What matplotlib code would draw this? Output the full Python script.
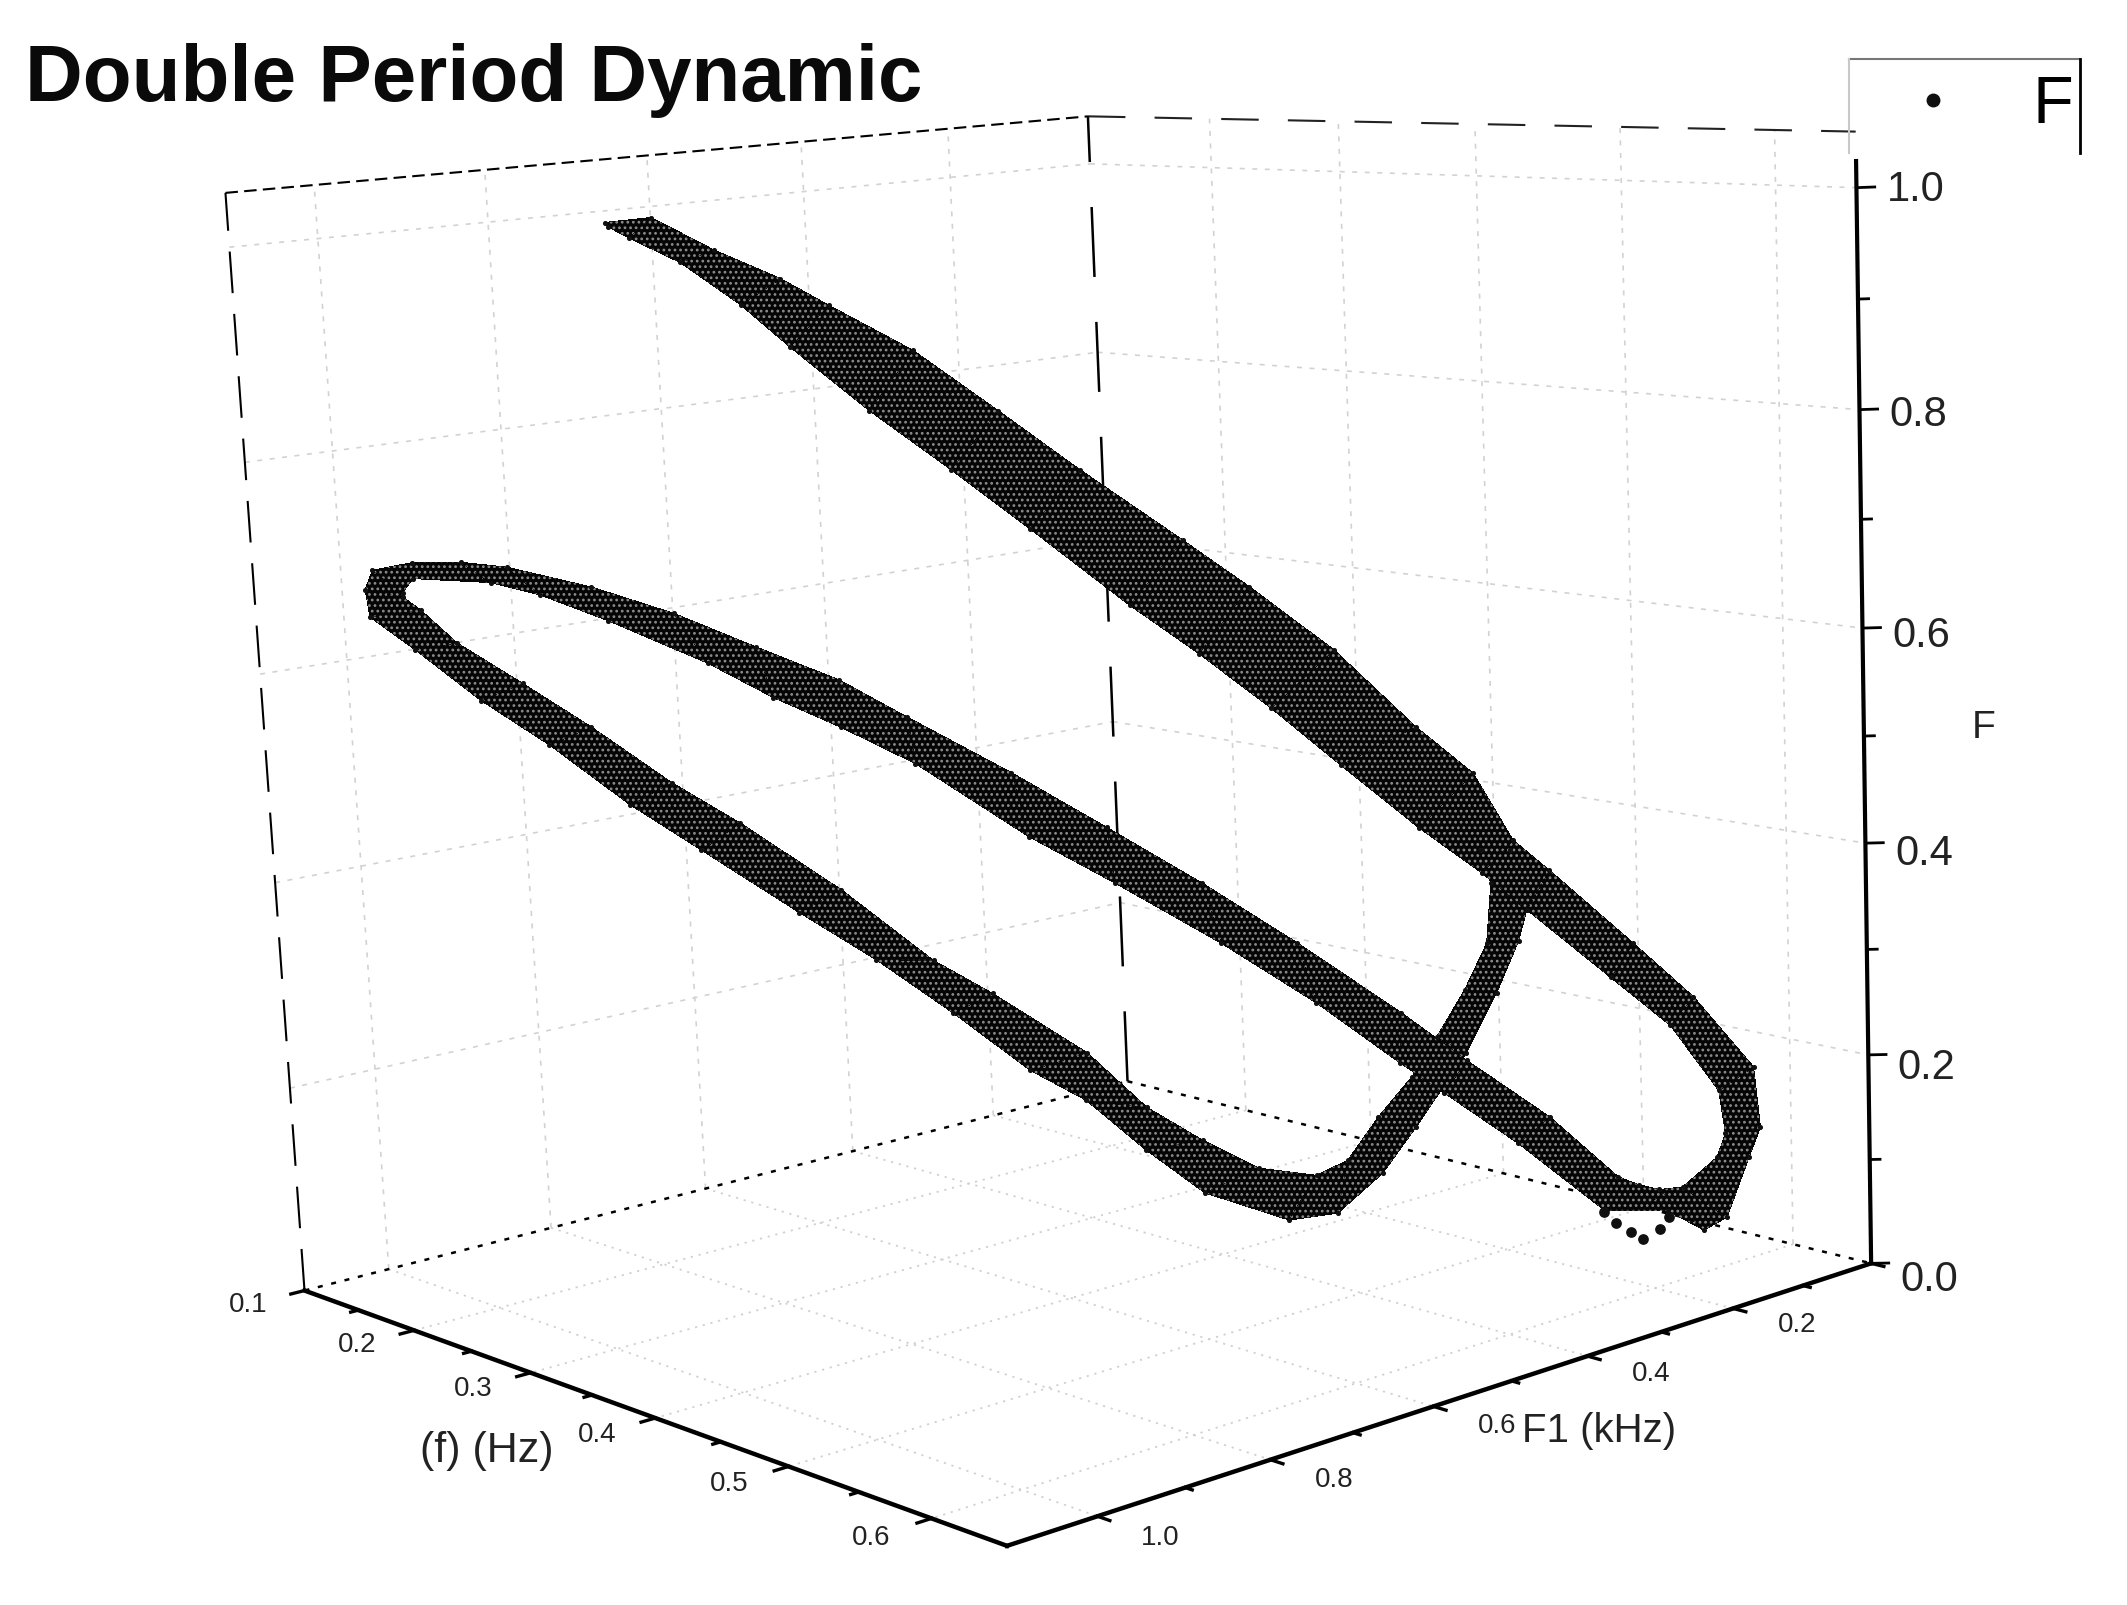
import numpy as np
import matplotlib
matplotlib.use('Agg')
import matplotlib.pyplot as plt
from matplotlib.lines import Line2D
from mpl_toolkits.mplot3d.art3d import Poly3DCollection

plt.rcParams['font.family'] = ['Liberation Sans', 'DejaVu Sans']
plt.rcParams['hatch.linewidth'] = 1.2

# outer and inner strand of the orbit band
orbit_a_x = [0.230, 0.246, 0.267, 0.289, 0.305, 0.333, 0.361, 0.388, 0.422, 0.444, 0.472, 0.499, 0.518, 0.531, 0.543, 0.571,
             0.591, 0.611, 0.613, 0.609, 0.601, 0.593, 0.581, 0.559, 0.530, 0.505, 0.490, 0.462, 0.430, 0.394, 0.365, 0.327,
             0.302, 0.279, 0.257, 0.223, 0.200, 0.183, 0.156, 0.152, 0.152, 0.158, 0.170, 0.192, 0.215, 0.242, 0.265, 0.299,
             0.330, 0.350, 0.382, 0.402, 0.421, 0.440, 0.460, 0.471, 0.482, 0.494, 0.503, 0.513, 0.521, 0.523, 0.520]
orbit_a_y = [0.840, 0.808, 0.766, 0.722, 0.690, 0.634, 0.578, 0.524, 0.456, 0.412, 0.356, 0.302, 0.264, 0.238, 0.214, 0.158,
             0.118, 0.078, 0.074, 0.082, 0.098, 0.114, 0.138, 0.182, 0.240, 0.290, 0.320, 0.376, 0.440, 0.512, 0.570, 0.646,
             0.696, 0.742, 0.786, 0.854, 0.900, 0.934, 0.988, 0.996, 0.996, 0.984, 0.960, 0.916, 0.870, 0.816, 0.770, 0.702,
             0.640, 0.600, 0.536, 0.496, 0.458, 0.420, 0.380, 0.358, 0.336, 0.312, 0.294, 0.274, 0.258, 0.254, 0.260]
orbit_a_f = [1.010, 1.013, 0.981, 0.953, 0.927, 0.883, 0.825, 0.768, 0.700, 0.655, 0.594, 0.520, 0.475, 0.411, 0.382, 0.311,
             0.259, 0.191, 0.133, 0.105, 0.047, 0.035, 0.054, 0.056, 0.122, 0.172, 0.202, 0.261, 0.320, 0.380, 0.426, 0.498,
             0.534, 0.564, 0.598, 0.641, 0.667, 0.680, 0.686, 0.673, 0.669, 0.656, 0.624, 0.584, 0.541, 0.486, 0.446, 0.380,
             0.310, 0.277, 0.218, 0.164, 0.131, 0.103, 0.095, 0.109, 0.150, 0.188, 0.226, 0.270, 0.314, 0.371, 0.403]

orbit_b_x = [0.231, 0.238, 0.255, 0.275, 0.291, 0.317, 0.344, 0.370, 0.403, 0.426, 0.450, 0.473, 0.499, 0.520, 0.535, 0.563,
             0.583, 0.599, 0.601, 0.598, 0.586, 0.578, 0.571, 0.564, 0.541, 0.513, 0.491, 0.456, 0.424, 0.392, 0.360, 0.325,
             0.302, 0.274, 0.246, 0.218, 0.189, 0.173, 0.156, 0.142, 0.139, 0.140, 0.155, 0.177, 0.200, 0.227, 0.251, 0.284,
             0.310, 0.336, 0.362, 0.381, 0.401, 0.421, 0.450, 0.467, 0.483, 0.495, 0.513, 0.524, 0.532, 0.535, 0.530]
orbit_b_y = [0.838, 0.824, 0.790, 0.750, 0.718, 0.666, 0.612, 0.560, 0.494, 0.448, 0.400, 0.354, 0.302, 0.260, 0.230, 0.174,
             0.134, 0.102, 0.098, 0.104, 0.128, 0.144, 0.158, 0.172, 0.218, 0.274, 0.318, 0.388, 0.452, 0.516, 0.580, 0.650,
             0.696, 0.752, 0.808, 0.864, 0.922, 0.954, 0.988, 1.016, 1.022, 1.020, 0.990, 0.946, 0.900, 0.846, 0.798, 0.732,
             0.680, 0.628, 0.576, 0.538, 0.498, 0.458, 0.400, 0.366, 0.334, 0.310, 0.274, 0.252, 0.236, 0.230, 0.240]
orbit_b_f = [1.006, 0.995, 0.971, 0.930, 0.890, 0.829, 0.772, 0.715, 0.641, 0.594, 0.541, 0.486, 0.425, 0.381, 0.345, 0.279,
             0.232, 0.169, 0.128, 0.105, 0.077, 0.075, 0.080, 0.088, 0.147, 0.203, 0.250, 0.319, 0.378, 0.433, 0.487, 0.542,
             0.579, 0.612, 0.646, 0.673, 0.694, 0.700, 0.701, 0.695, 0.677, 0.651, 0.619, 0.569, 0.525, 0.466, 0.421, 0.359,
             0.312, 0.259, 0.202, 0.172, 0.123, 0.080, 0.052, 0.058, 0.096, 0.140, 0.210, 0.267, 0.316, 0.345, 0.402]

# the few stray points under the right turn
stray_x = [0.559, 0.563, 0.568, 0.572, 0.578, 0.581]
stray_y = [0.182, 0.174, 0.164, 0.156, 0.144, 0.138]
stray_f = [0.054, 0.043, 0.034, 0.027, 0.037, 0.048]

x_ticks = [0.2, 0.3, 0.4, 0.5, 0.6]
x_minor = [0.15, 0.25, 0.35, 0.45, 0.55]
y_ticks = [0.2, 0.4, 0.6, 0.8, 1.0]
y_minor = [0.1, 0.3, 0.5, 0.7, 0.9]
z_ticks = [0.0, 0.2, 0.4, 0.6, 0.8, 1.0]
z_minor = [0.1, 0.3, 0.5, 0.7, 0.9]
x_lo, x_hi = 0.1, 0.65
y_lo, y_hi = 0.0, 1.1
z_lo, z_hi = 0.0, 1.05

fig = plt.figure(figsize=(21.27, 16.05), dpi=100)
ax = fig.add_axes([0.0348, -0.0656, 0.8964, 1.1879], projection='3d')
ax.set_xlim(x_lo, x_hi)
ax.set_ylim(y_hi, y_lo)
ax.set_zlim(z_lo, z_hi)
ax.set_box_aspect((1.003, 1.0, 1.0))
ax.set_proj_type('persp', focal_length=0.477)
ax.view_init(10.157, -39.915, 2.476)
ax.set_xticks([])
ax.set_yticks([])
ax.set_zticks([])
ax.set_axis_off()
ax.computed_zorder = False

grid = dict(color='#d2d2d2', lw=1.2, dashes=(3, 4.5), zorder=1)
floor = dict(color='#d0d0d0', lw=1.3, dashes=(1.2, 3.2), zorder=1)
for v in x_ticks:
    ax.plot([v, v], [y_lo, y_lo], [z_lo, z_hi], **grid)
    ax.plot([v, v], [y_lo, y_hi], [z_lo, z_lo], **floor)
for v in y_ticks:
    ax.plot([x_lo, x_lo], [v, v], [z_lo, z_hi], **grid)
    ax.plot([x_lo, x_hi], [v, v], [z_lo, z_lo], **floor)
for v in z_ticks[1:]:
    ax.plot([x_lo, x_lo], [y_hi, y_lo], [v, v], **grid)
    ax.plot([x_lo, x_hi], [y_lo, y_lo], [v, v], **grid)

# box edges
ax.plot([x_lo, x_lo], [y_hi, y_lo], [z_hi, z_hi], color='k', lw=1.5, dashes=(6, 3), zorder=2)
ax.plot([x_lo, x_hi], [y_lo, y_lo], [z_hi, z_hi], color='#222222', lw=1.5, dashes=(18, 14), zorder=2)
ax.plot([x_lo, x_lo], [y_hi, y_hi], [z_lo, z_hi], color='k', lw=1.5, dashes=(20, 10), zorder=2)
ax.plot([x_lo, x_lo], [y_lo, y_lo], [z_lo, z_hi], color='k', lw=1.8, dashes=(28, 18), zorder=2)
ax.plot([x_lo, x_lo], [y_hi, y_lo], [z_lo, z_lo], color='k', lw=1.8, dashes=(2, 3.5), zorder=2)
ax.plot([x_lo, x_hi], [y_lo, y_lo], [z_lo, z_lo], color='k', lw=1.8, dashes=(2, 3.5), zorder=2)

# front axes
ax.plot([x_lo, x_hi], [y_hi, y_hi], [z_lo, z_lo], color='k', lw=3.2, zorder=3)
ax.plot([x_hi, x_hi], [y_hi, y_lo], [z_lo, z_lo], color='k', lw=3.2, zorder=3)
ax.plot([x_hi, x_hi], [y_lo, y_lo], [z_lo, z_hi * 0.975], color='k', lw=3, zorder=3)

for v in x_ticks + [x_lo]:
    ax.plot([v, v], [y_hi, y_hi + 0.016], [z_lo, z_lo], color='k', lw=2.4, zorder=3)
for v in x_minor:
    ax.plot([v, v], [y_hi, y_hi + 0.009], [z_lo, z_lo], color='k', lw=2.4, zorder=3)
for v in y_ticks + [y_lo]:
    ax.plot([x_hi, x_hi + 0.008], [v, v], [z_lo, z_lo], color='k', lw=2.4, zorder=3)
for v in y_minor:
    ax.plot([x_hi, x_hi + 0.0045], [v, v], [z_lo, z_lo], color='k', lw=2.4, zorder=3)
for v in z_ticks:
    ax.plot([x_hi, x_hi + 0.006], [y_lo, y_lo - 0.012], [v, v], color='k', lw=2, zorder=3)
for v in z_minor:
    ax.plot([x_hi, x_hi + 0.0035], [y_lo, y_lo - 0.007], [v, v], color='k', lw=2, zorder=3)

# tick labels
for v in [x_lo] + x_ticks:
    ax.text(v, 1.165, z_lo, f'{v:.1f}', fontsize=20, rotation=14, ha='center', va='center', color='#222222')
for v in y_ticks:
    ax.text(0.69, v, z_lo, f'{v:.1f}', fontsize=20, rotation=-14, ha='center', va='center', color='#222222')
for v in z_ticks:
    ax.text(x_hi + 0.009, y_lo - 0.022, v * 1.014 - 0.017, f'{v:.1f}', fontsize=30, ha='left', va='center', color='#222222')
ax.text(0.382, 1.26, z_lo, '(f) (Hz)', fontsize=31, rotation=-22, ha='center', va='center', color='#222222')
ax.text(0.728, 0.55, z_lo, 'F1 (kHz)', fontsize=29, rotation=16, ha='center', va='center', color='#222222')
ax.text(0.70, -0.055, 0.51, 'F', fontsize=28, rotation=-90, ha='center', va='center', color='#222222')

# the orbit band
pts_a = np.column_stack([orbit_a_x, orbit_a_y, orbit_a_f])
pts_b = np.column_stack([orbit_b_x, orbit_b_y, orbit_b_f])
quads = [[pts_a[i], pts_b[i], pts_b[i + 1], pts_a[i + 1]] for i in range(len(pts_a) - 1)]
band = Poly3DCollection(quads, facecolor='#050505', edgecolor='#8c8c8c', linewidth=0,
                        hatch='...', antialiased=False, zorder=4)
ax.add_collection3d(band)
ax.scatter(orbit_a_x, orbit_a_y, orbit_a_f, s=7, c='#101010', depthshade=False, zorder=5)
ax.scatter(orbit_b_x, orbit_b_y, orbit_b_f, s=7, c='#101010', depthshade=False, zorder=5)
ax.scatter(stray_x, stray_y, stray_f, s=45, c='#101010', depthshade=False, zorder=5)

fig.text(25 / 2127, 1 - 80 / 1605, 'Double Period Dynamic', fontsize=57.5, fontweight='bold',
         va='center', ha='left', color='#0a0a0a')

# legend box, open at the bottom
fig.add_artist(Line2D([1849 / 2127, 2080 / 2127], [1 - 59 / 1605, 1 - 59 / 1605], color='#777777', lw=1.5))
fig.add_artist(Line2D([1849 / 2127, 1849 / 2127], [1 - 59 / 1605, 1 - 153 / 1605], color='#c8c8c8', lw=1.5))
fig.add_artist(Line2D([2080 / 2127, 2080 / 2127], [1 - 59 / 1605, 1 - 153 / 1605], color='k', lw=2))
handle = Line2D([], [], ls='none', marker='o', ms=9, color='#101010')
fig.legend([handle], ['F'], loc='center left', bbox_to_anchor=(1913 / 2127, 1 - 106 / 1605), frameon=False,
           fontsize=48, handlelength=0.6, handletextpad=1.2, borderpad=0, borderaxespad=0)

fig.savefig('out.png', dpi=100)
